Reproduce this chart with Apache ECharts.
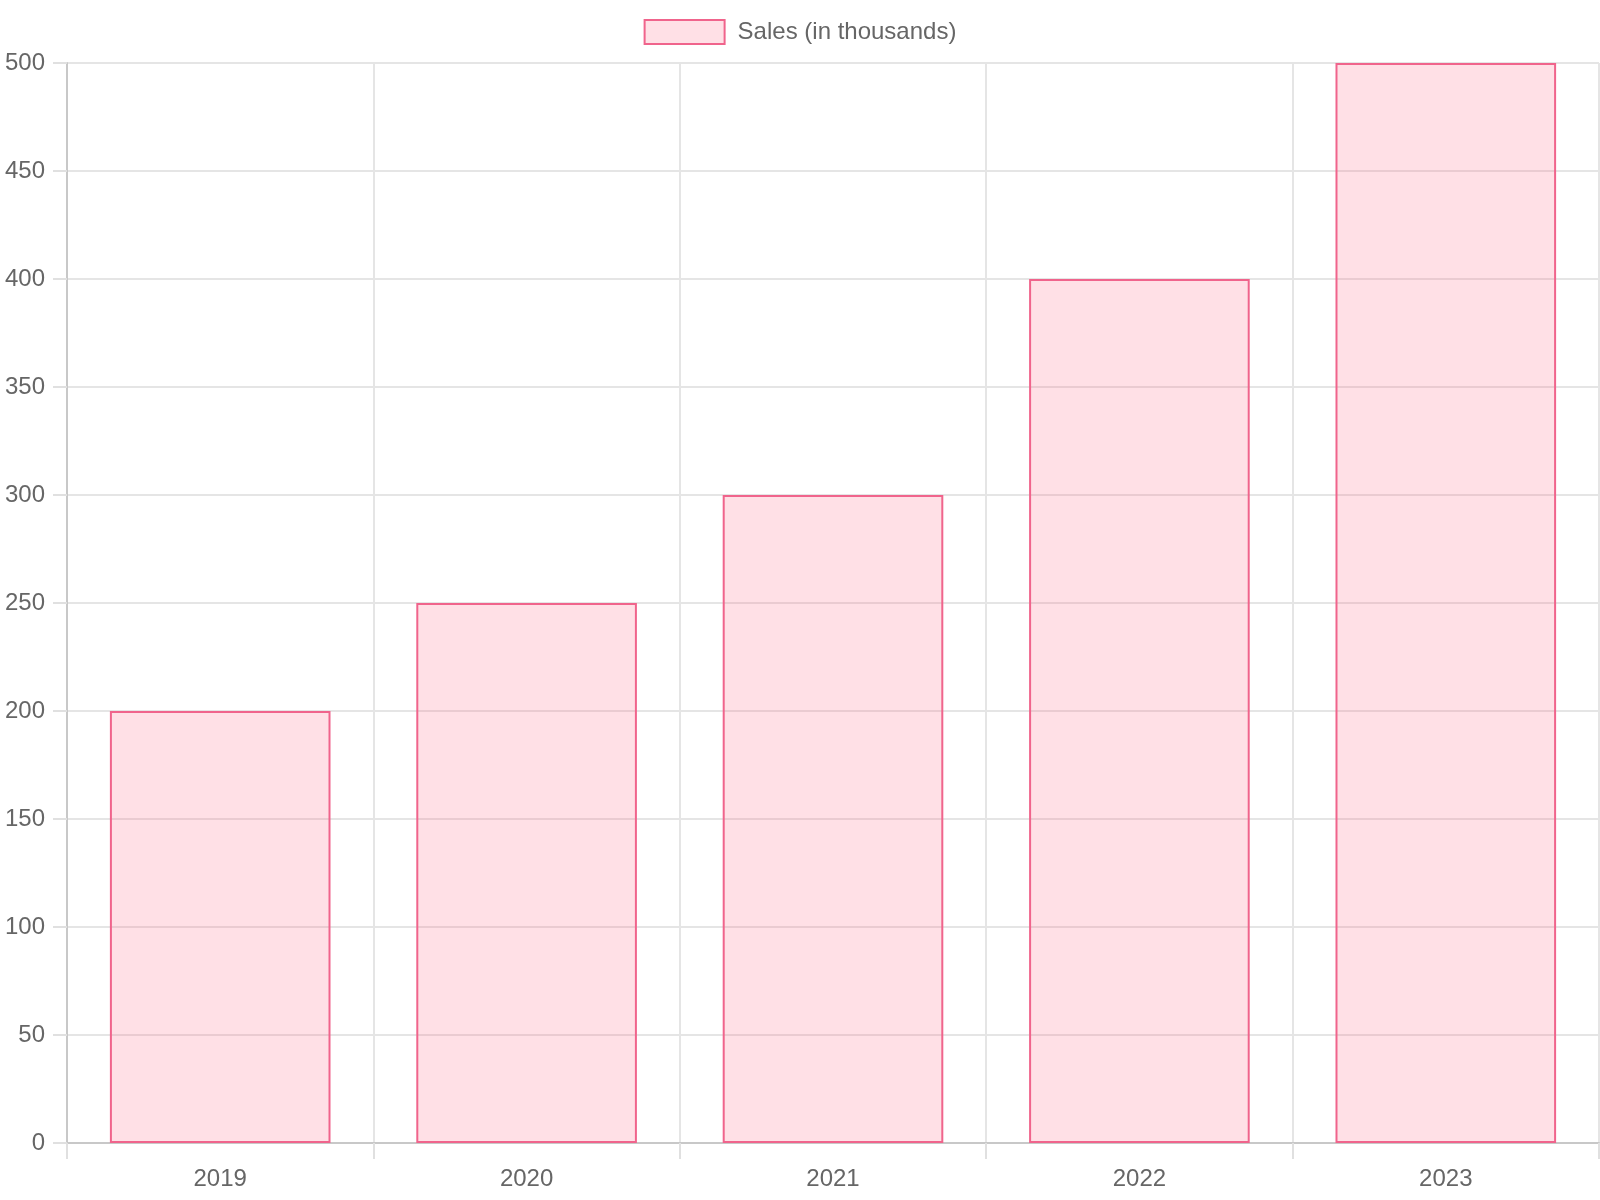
<html>
<head>
<meta charset="UTF-8">
<title>Sales</title>
<script src="https://cdn.jsdelivr.net/npm/echarts@6/dist/echarts.min.js"></script>
<style>
  body { margin: 0; background: #fff; }
  #main { width: 1600px; height: 1200px; }
</style>
</head>
<body>
<div id="main"></div>
<script>
var years = ['2019', '2020', '2021', '2022', '2023'];
var sales = [200, 250, 300, 400, 500];
var seriesName = 'Sales (in thousands)';

var pink = 'rgb(240, 100, 140)';
var pinkFill = 'rgba(255, 99, 132, 0.2)';
var textColor = '#666';
var font = 'Liberation Sans, Arial, sans-serif';

var option = {
  animation: false,
  legend: {
    top: 14,
    left: 'center',
    itemWidth: 80,
    itemHeight: 24,
    icon: 'rect',
    textStyle: { color: textColor, fontSize: 24, fontFamily: font, padding: [0, 0, 0, 8] },
    data: [seriesName]
  },
  grid: { left: 67, right: 1, top: 63, bottom: 57, containLabel: false },
  xAxis: {
    type: 'category',
    data: years,
    axisLine: { lineStyle: { color: '#c8c8c8', width: 2 } },
    axisTick: { show: true, length: 16, lineStyle: { color: '#e0e0e0', width: 2 } },
    axisLabel: { color: textColor, fontSize: 24, fontFamily: font, margin: 24 },
    splitLine: { show: true, lineStyle: { color: '#e5e5e5', width: 2 } }
  },
  yAxis: {
    type: 'value',
    min: 0,
    max: 500,
    interval: 50,
    axisLine: { show: true, lineStyle: { color: '#c8c8c8', width: 2 } },
    axisTick: { show: true, length: 14, lineStyle: { color: '#e0e0e0', width: 2 } },
    axisLabel: { color: textColor, fontSize: 24, fontFamily: font, margin: 22 },
    splitLine: { show: true, lineStyle: { color: '#e5e5e5', width: 2 } }
  },
  series: [{
    name: seriesName,
    type: 'bar',
    data: sales,
    barWidth: '72%',
    itemStyle: { color: pinkFill, borderColor: pink, borderWidth: 2 }
  }]
};

var chart = echarts.init(document.getElementById('main'));
chart.setOption(option);
</script>
</body>
</html>
